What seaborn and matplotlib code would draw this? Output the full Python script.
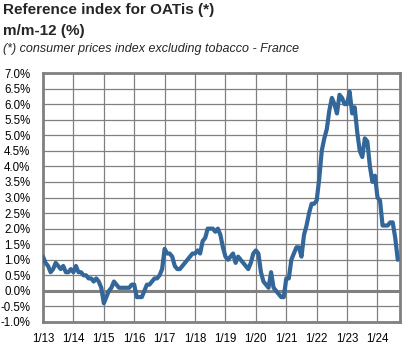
import numpy as np
import pandas as pd
import seaborn as sns
import matplotlib.pyplot as plt

# -----------------------------
# Data: CPI excl. tobacco, y/y % (monthly, 1/2013 -> 9/2024)
# -----------------------------
start_year = 2013
infl_2013 = [1.1, 0.9, 0.8, 0.6, 0.7, 0.9, 0.8, 0.7, 0.8, 0.6, 0.6, 0.7]
infl_2014 = [0.6, 0.8, 0.6, 0.6, 0.5, 0.5, 0.4, 0.4, 0.3, 0.4, 0.3, 0.1]
infl_2015 = [-0.4, -0.2, 0.0, 0.1, 0.3, 0.2, 0.1, 0.1, 0.1, 0.1, 0.1, 0.2]
infl_2016 = [0.2, -0.2, -0.2, -0.2, 0.0, 0.2, 0.2, 0.3, 0.4, 0.4, 0.5, 0.7]
infl_2017 = [1.35, 1.2, 1.2, 1.1, 0.8, 0.7, 0.7, 0.8, 0.9, 1.0, 1.1, 1.2]
infl_2018 = [1.2, 1.3, 1.2, 1.6, 1.7, 2.0, 2.0, 2.0, 1.9, 2.0, 1.8, 1.4]
infl_2019 = [1.1, 1.0, 1.1, 1.2, 0.9, 1.1, 1.0, 0.9, 0.8, 0.7, 0.9, 1.2]
infl_2020 = [1.3, 1.2, 0.6, 0.3, 0.2, 0.1, 0.6, 0.1, 0.0, -0.1, -0.2, -0.2]
infl_2021 = [0.4, 0.4, 1.0, 1.2, 1.4, 1.4, 1.1, 1.8, 2.1, 2.5, 2.8, 2.8]
infl_2022 = [2.9, 3.6, 4.5, 4.9, 5.2, 5.8, 6.2, 6.0, 5.7, 6.3, 6.2, 6.0]
infl_2023 = [6.0, 6.4, 5.7, 5.9, 5.1, 4.5, 4.3, 4.9, 4.8, 4.0, 3.5, 3.7]
infl_2024 = [3.0, 2.9, 2.1, 2.1, 2.1, 2.2, 2.2, 1.7, 1.0]

year_labels = ['1/13', '1/14', '1/15', '1/16', '1/17', '1/18',
               '1/19', '1/20', '1/21', '1/22', '1/23', '1/24']
y_ticks = [-1.0, -0.5, 0.0, 0.5, 1.0, 1.5, 2.0, 2.5, 3.0, 3.5,
           4.0, 4.5, 5.0, 5.5, 6.0, 6.5, 7.0]

values = (infl_2013 + infl_2014 + infl_2015 + infl_2016 + infl_2017 + infl_2018
          + infl_2019 + infl_2020 + infl_2021 + infl_2022 + infl_2023 + infl_2024)
df = pd.DataFrame({'t': start_year + np.arange(len(values)) / 12, 'infl': values})

# -----------------------------
# Plot
# -----------------------------
sns.set_style("white")
plt.rcParams['font.family'] = ['Liberation Sans', 'DejaVu Sans']

grey = '#808080'
fig = plt.figure(figsize=(4.14, 3.58), dpi=100)
ax = fig.add_axes([43 / 414, 1 - 322 / 358, 357 / 414, 249 / 358])

for yr in range(len(year_labels)):
    ax.axvline(start_year + yr, color=grey, lw=0.9, zorder=1)
for yv in y_ticks:
    ax.axhline(yv, color=grey, lw=0.9, zorder=1)
ax.axhline(0, color=grey, lw=2.2, zorder=2)

sns.lineplot(data=df, x='t', y='infl', ax=ax, color='#336699', lw=3.0, zorder=3)

ax.set_xlim(start_year, start_year + 11.74)
ax.set_ylim(-1.0, 7.0)
ax.set_xticks([start_year + i for i in range(len(year_labels))])
ax.set_xticklabels(year_labels)
ax.set_yticks(y_ticks)
ax.set_yticklabels([f"{v:.1f}%" for v in y_ticks])
ax.tick_params(axis='both', length=0, labelsize=8.3, colors='black')
ax.tick_params(axis='x', pad=8)
ax.tick_params(axis='y', pad=9)
ax.set_xlabel('')
ax.set_ylabel('')
for s in ax.spines.values():
    s.set_color(grey)
    s.set_linewidth(2.0)

fig.text(0.008, 1 - 10 / 358, 'Reference index for OATis (*)', fontsize=11,
         fontweight='bold', va='center', ha='left')
fig.text(0.008, 1 - 31 / 358, 'm/m-12 (%)', fontsize=11,
         fontweight='bold', va='center', ha='left')
fig.text(0.008, 1 - 49 / 358, '(*) consumer prices index excluding tobacco - France',
         fontsize=9, style='italic', va='center', ha='left')

fig.savefig('out.png', dpi=100)
